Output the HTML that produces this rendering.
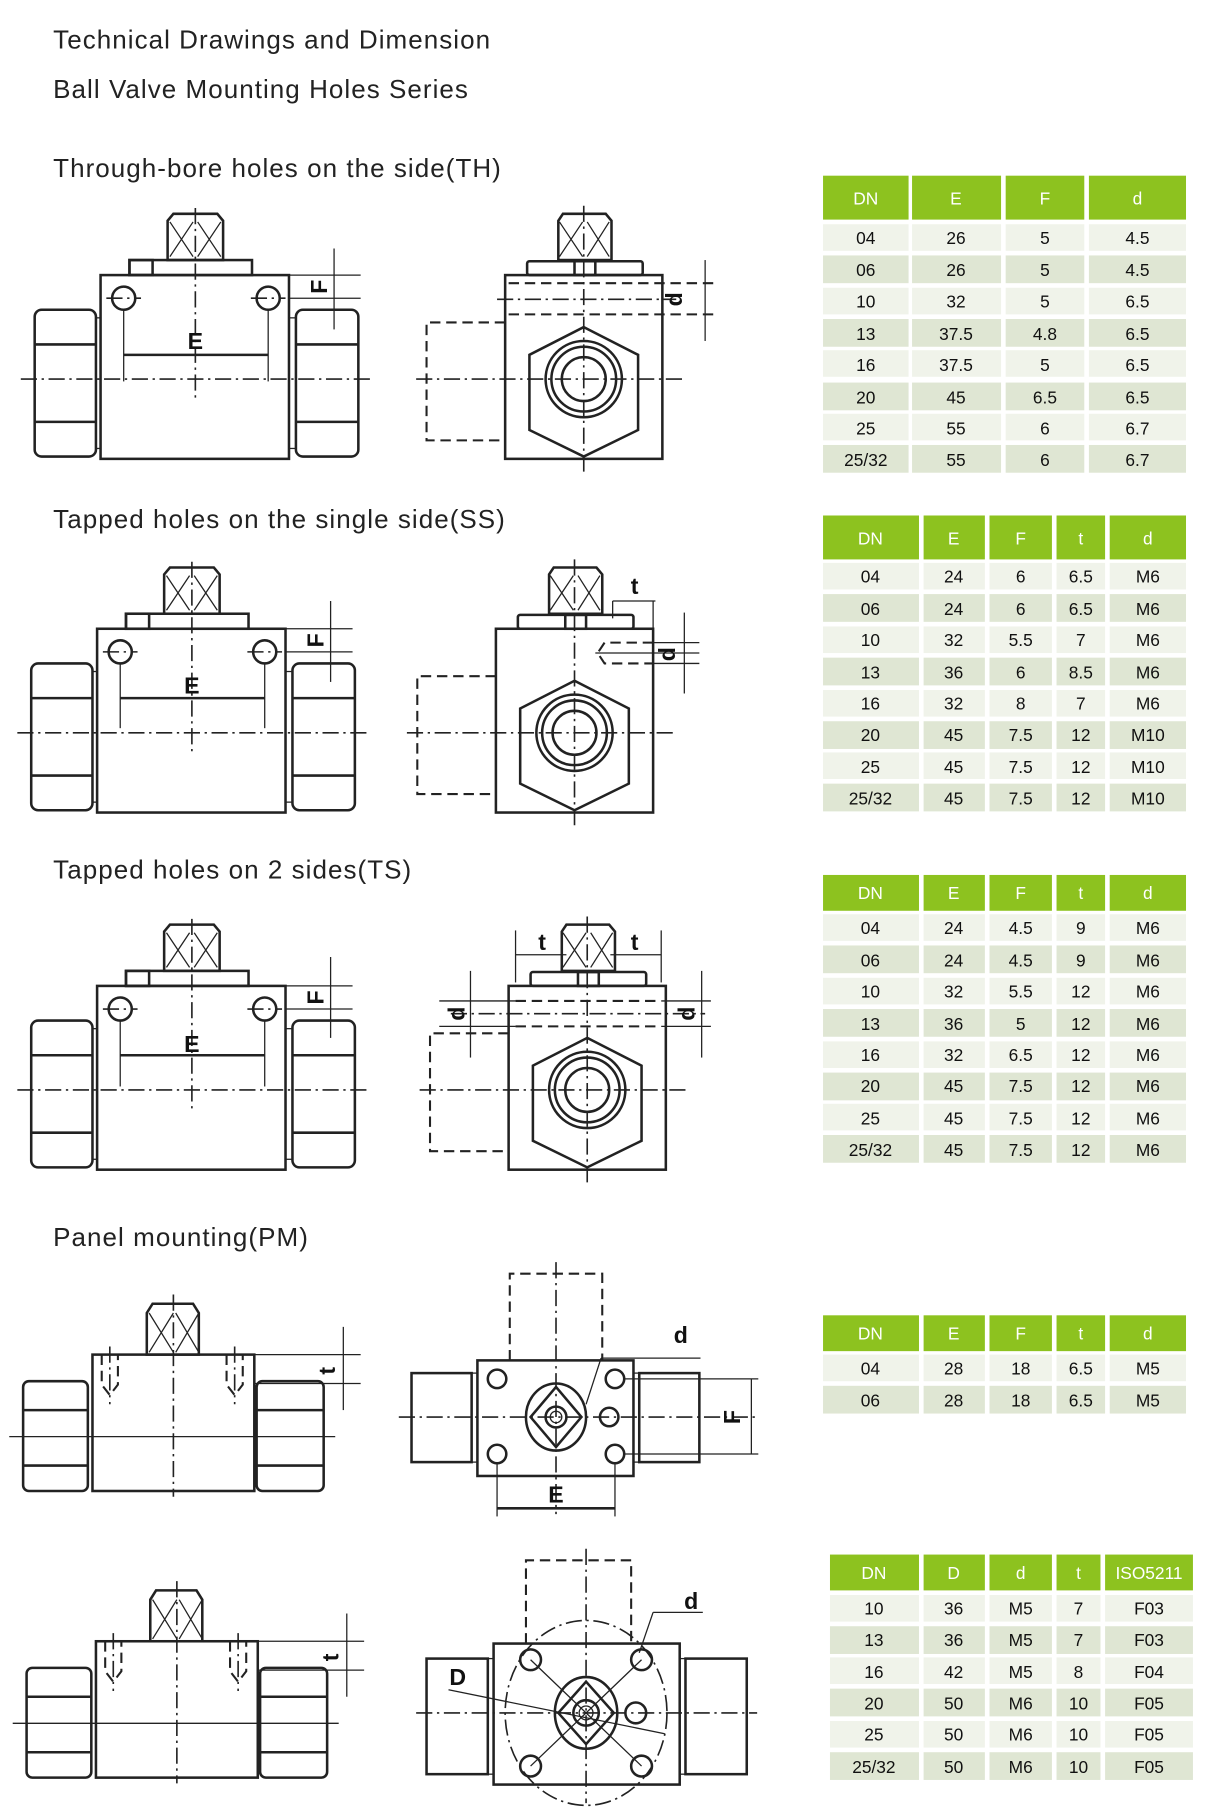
<!DOCTYPE html>
<html><head><meta charset="utf-8"><style>
html,body{margin:0;padding:0;background:#fff;}
svg{display:block;}
text{font-family:"Liberation Sans",sans-serif;}
.t{font-size:22.5px;fill:#222;letter-spacing:0.9px;}
.h{font-size:15px;fill:#fff;text-anchor:middle;}
.c{font-size:15px;fill:#111;text-anchor:middle;}
.lb{font-size:20px;font-weight:bold;fill:#111;text-anchor:middle;}
.s{fill:none;stroke:#222;stroke-width:2.2;}
.th{fill:none;stroke:#222;stroke-width:1.1;}
.dd{fill:none;stroke:#222;stroke-width:1.8;stroke-dasharray:9 5;}
.cl{fill:none;stroke:#222;stroke-width:1.4;stroke-dasharray:14 4 2 4;}
</style></head><body>
<svg width="1223" height="1810" viewBox="0 0 1058 1566" preserveAspectRatio="none" xmlns="http://www.w3.org/2000/svg">
<defs>
<g id="lv">
 <rect class="s" x="87" y="238" width="163" height="159"/>
 <rect class="s" x="30" y="268" width="53" height="127" rx="6"/>
 <line class="s" x1="30" y1="298" x2="83" y2="298"/><line class="s" x1="30" y1="365" x2="83" y2="365"/>
 <rect class="th" x="83" y="275" width="4" height="113"/>
 <rect class="s" x="256" y="268" width="54" height="127" rx="6"/>
 <line class="s" x1="256" y1="298" x2="310" y2="298"/><line class="s" x1="256" y1="365" x2="310" y2="365"/>
 <rect class="th" x="250" y="275" width="6" height="113"/>
 <path class="s" d="M150,185 h38 l5,6 v34 h-48 v-34 z"/>
 <path class="th" d="M147,192 L167,222 M167,192 L147,222 M171,192 L191,222 M191,192 L171,222"/>
 <rect class="s" x="112" y="225" width="106" height="13"/>
 <rect class="s" x="112" y="225" width="20" height="13"/>
 <line class="cl" x1="18" y1="328" x2="322" y2="328"/>
 <line class="cl" x1="169" y1="180" x2="169" y2="345"/>
</g>
<g id="rv">
 <rect class="s" x="437" y="238" width="136" height="159"/>
 <path class="s" d="M505,283 L552,307 L552,372 L505,395 L458,372 L458,307 Z"/>
 <circle class="s" cx="505" cy="328" r="33"/><circle class="s" cx="505" cy="328" r="28"/><circle class="s" cx="505" cy="328" r="19"/>
 <path class="dd" d="M437,279 H369 V381 H437"/>
 <path class="s" d="M487,185 h37 l5,6 v34 h-46 v-34 z"/>
 <path class="th" d="M484,192 L504,222 M504,192 L484,222 M508,192 L527,222 M527,192 L508,222"/>
 <rect class="s" x="456" y="226" width="100" height="12" rx="2"/>
 <rect class="s" x="497" y="226" width="18" height="12"/>
 <line class="cl" x1="360" y1="328" x2="590" y2="328"/>
 <line class="cl" x1="505" y1="178" x2="505" y2="410"/>
</g>
<g id="plv">
 <rect class="s" x="80" y="1172" width="140" height="118"/>
 <rect class="s" x="20" y="1195" width="56" height="95" rx="5"/>
 <line class="s" x1="20" y1="1220" x2="76" y2="1220"/><line class="s" x1="20" y1="1268" x2="76" y2="1268"/>
 <rect class="s" x="222" y="1195" width="58" height="95" rx="5"/>
 <line class="s" x1="222" y1="1220" x2="280" y2="1220"/><line class="s" x1="222" y1="1268" x2="280" y2="1268"/>
 <path class="s" d="M132,1128 h35 l5,8 v36 h-45 v-36 z"/>
 <path class="th" d="M129,1136 L150,1170 M150,1136 L129,1170 M152,1136 L172,1170 M172,1136 L152,1170"/>
 <path class="dd" d="M88,1172 v26 l7,9 l7,-9 v-26 M196,1172 v26 l7,9 l7,-9 v-26"/>
 <line class="cl" x1="95" y1="1165" x2="95" y2="1215"/><line class="cl" x1="203" y1="1165" x2="203" y2="1215"/>
 <line class="th" x1="8" y1="1243" x2="290" y2="1243"/>
 <line class="cl" x1="150" y1="1120" x2="150" y2="1295"/>
 <line class="th" x1="220" y1="1172" x2="312" y2="1172"/><line class="th" x1="220" y1="1197" x2="312" y2="1197"/>
 <line class="th" x1="297" y1="1148" x2="297" y2="1220"/>
</g>
</defs>

<text class="t" x="46" y="42">Technical Drawings and Dimension</text>
<text class="t" x="46" y="85">Ball Valve Mounting Holes Series</text>
<text class="t" x="46" y="153">Through-bore holes on the side(TH)</text>
<text class="t" x="46" y="457">Tapped holes on the single side(SS)</text>
<text class="t" x="46" y="760">Tapped holes on 2 sides(TS)</text>
<text class="t" x="46" y="1078">Panel mounting(PM)</text>

<!-- TH -->
<use href="#lv"/>
<circle class="s" cx="107" cy="258" r="10"/><circle class="s" cx="232" cy="258" r="10"/>
<line class="cl" x1="92" y1="258" x2="122" y2="258"/><line class="cl" x1="217" y1="258" x2="247" y2="258"/>
<line class="th" x1="107" y1="268" x2="107" y2="330"/><line class="th" x1="232" y1="268" x2="232" y2="330"/>
<line class="s" x1="107" y1="307" x2="232" y2="307"/>
<text class="lb" x="169" y="302">E</text>
<line class="th" x1="250" y1="238" x2="312" y2="238"/><line class="th" x1="250" y1="258" x2="312" y2="258"/>
<line class="th" x1="289" y1="215" x2="289" y2="285"/>
<text class="lb" transform="translate(283,248) rotate(-90)" x="0" y="0">F</text>
<use href="#rv"/>
<line class="dd" x1="440" y1="245" x2="620" y2="245"/><line class="dd" x1="440" y1="272" x2="620" y2="272"/>
<line class="cl" x1="430" y1="259" x2="585" y2="259"/>
<line class="th" x1="610" y1="225" x2="610" y2="295"/>
<text class="lb" transform="translate(590,259) rotate(-90)" x="0" y="0">d</text>

<!-- SS -->
<g transform="translate(-3,306)"><use href="#lv"/></g>
<circle class="s" cx="104" cy="564" r="10"/><circle class="s" cx="229" cy="564" r="10"/>
<line class="cl" x1="89" y1="564" x2="119" y2="564"/><line class="cl" x1="214" y1="564" x2="244" y2="564"/>
<line class="th" x1="104" y1="574" x2="104" y2="630"/><line class="th" x1="229" y1="574" x2="229" y2="630"/>
<line class="s" x1="104" y1="604" x2="229" y2="604"/>
<text class="lb" x="166" y="600">E</text>
<line class="th" x1="247" y1="544" x2="305" y2="544"/><line class="th" x1="247" y1="564" x2="305" y2="564"/>
<line class="th" x1="286" y1="520" x2="286" y2="590"/>
<text class="lb" transform="translate(280,554) rotate(-90)" x="0" y="0">F</text>
<g transform="translate(-8,306)"><use href="#rv"/></g>
<path class="dd" d="M565,556 h-42 l-6,9 l6,9 h42"/>
<line class="th" x1="515" y1="565" x2="605" y2="565"/>
<line class="th" x1="565" y1="520" x2="565" y2="560"/><line class="th" x1="530" y1="520" x2="530" y2="535"/>
<line class="th" x1="530" y1="520" x2="567" y2="520"/>
<text class="lb" x="549" y="514">t</text>
<line class="th" x1="565" y1="556" x2="605" y2="556"/><line class="th" x1="565" y1="574" x2="605" y2="574"/>
<line class="th" x1="592" y1="530" x2="592" y2="600"/>
<text class="lb" transform="translate(584,566) rotate(-90)" x="0" y="0">d</text>

<!-- TS -->
<g transform="translate(-3,615)"><use href="#lv"/></g>
<circle class="s" cx="104" cy="873" r="10"/><circle class="s" cx="229" cy="873" r="10"/>
<line class="cl" x1="89" y1="873" x2="119" y2="873"/><line class="cl" x1="214" y1="873" x2="244" y2="873"/>
<line class="th" x1="104" y1="883" x2="104" y2="940"/><line class="th" x1="229" y1="883" x2="229" y2="940"/>
<line class="s" x1="104" y1="913" x2="229" y2="913"/>
<text class="lb" x="166" y="910">E</text>
<line class="th" x1="247" y1="853" x2="305" y2="853"/><line class="th" x1="247" y1="873" x2="305" y2="873"/>
<line class="th" x1="286" y1="828" x2="286" y2="898"/>
<text class="lb" transform="translate(280,863) rotate(-90)" x="0" y="0">F</text>
<g transform="translate(3,615)"><use href="#rv"/></g>
<line class="dd" x1="446" y1="866" x2="572" y2="866"/><line class="dd" x1="446" y1="888" x2="572" y2="888"/>
<line class="cl" x1="390" y1="877" x2="610" y2="877"/>
<line class="th" x1="446" y1="805" x2="446" y2="850"/><line class="th" x1="572" y1="805" x2="572" y2="850"/>
<line class="th" x1="446" y1="826" x2="490" y2="826"/><line class="th" x1="528" y1="826" x2="572" y2="826"/>
<text class="lb" x="469" y="822">t</text><text class="lb" x="549" y="822">t</text>
<line class="th" x1="380" y1="866" x2="446" y2="866"/><line class="th" x1="380" y1="888" x2="446" y2="888"/>
<line class="th" x1="572" y1="866" x2="615" y2="866"/><line class="th" x1="572" y1="888" x2="615" y2="888"/>
<line class="th" x1="407" y1="840" x2="407" y2="915"/><line class="th" x1="607" y1="840" x2="607" y2="915"/>
<text class="lb" transform="translate(402,877) rotate(-90)" x="0" y="0">d</text>
<text class="lb" transform="translate(601,877) rotate(-90)" x="0" y="0">d</text>

<!-- PM 1 -->
<use href="#plv"/>
<text class="lb" transform="translate(290,1186) rotate(-90)" x="0" y="0">t</text>
<rect class="s" x="413" y="1177" width="135" height="100"/>
<path class="dd" d="M441,1177 V1102 H521 V1177"/>
<rect class="s" x="356" y="1188" width="52" height="77"/><rect class="th" x="408" y="1188" width="5" height="77"/>
<rect class="s" x="553" y="1188" width="52" height="77"/><rect class="th" x="548" y="1188" width="5" height="77"/>
<circle class="s" cx="430" cy="1193" r="8"/><circle class="s" cx="532" cy="1193" r="8"/>
<circle class="s" cx="430" cy="1258" r="8"/><circle class="s" cx="532" cy="1258" r="8"/>
<circle class="s" cx="527" cy="1226" r="8"/>
<ellipse class="s" cx="481" cy="1226" rx="26" ry="29"/>
<path class="s" d="M481,1200 L503,1226 L481,1252 L459,1226 Z"/>
<circle class="s" cx="481" cy="1226" r="9"/><circle class="th" cx="481" cy="1226" r="5"/>
<line class="cl" x1="345" y1="1226" x2="655" y2="1226"/>
<line class="cl" x1="481" y1="1092" x2="481" y2="1310"/>
<line class="th" x1="520" y1="1175" x2="606" y2="1175"/><line class="th" x1="520" y1="1175" x2="507" y2="1215"/>
<text class="lb" x="589" y="1162">d</text>
<line class="th" x1="430" y1="1265" x2="430" y2="1312"/><line class="th" x1="532" y1="1265" x2="532" y2="1312"/>
<line class="s" x1="430" y1="1305" x2="532" y2="1305"/>
<text class="lb" x="481" y="1300">E</text>
<line class="th" x1="540" y1="1193" x2="656" y2="1193"/><line class="th" x1="540" y1="1258" x2="656" y2="1258"/>
<line class="th" x1="650" y1="1193" x2="650" y2="1258"/>
<text class="lb" transform="translate(640,1226) rotate(-90)" x="0" y="0">F</text>

<!-- PM 2 -->
<g transform="translate(3,248)"><use href="#plv"/></g>
<text class="lb" transform="translate(293,1434) rotate(-90)" x="0" y="0">t</text>
<rect class="s" x="427" y="1422" width="161" height="122"/>
<path class="dd" d="M455,1422 V1350 H546 V1422"/>
<rect class="s" x="369" y="1435" width="53" height="100"/><rect class="th" x="422" y="1435" width="5" height="100"/>
<rect class="s" x="593" y="1435" width="53" height="100"/><rect class="th" x="588" y="1435" width="5" height="100"/>
<ellipse class="cl" cx="507" cy="1482" rx="70" ry="80"/>
<circle class="s" cx="459" cy="1436" r="9"/><circle class="s" cx="555" cy="1436" r="9"/>
<circle class="s" cx="459" cy="1528" r="9"/><circle class="s" cx="555" cy="1528" r="9"/>
<circle class="s" cx="550" cy="1482" r="9"/>
<ellipse class="s" cx="507" cy="1482" rx="27" ry="31"/>
<path class="s" d="M507,1455 L531,1482 L507,1509 L483,1482 Z"/>
<circle class="s" cx="507" cy="1482" r="11"/><circle class="th" cx="507" cy="1482" r="6"/>
<path class="th" d="M459,1436 L555,1528 M555,1436 L459,1528"/>
<line class="cl" x1="360" y1="1482" x2="655" y2="1482"/>
<line class="cl" x1="507" y1="1340" x2="507" y2="1560"/>
<line class="th" x1="565" y1="1395" x2="608" y2="1395"/><line class="th" x1="565" y1="1395" x2="553" y2="1430"/>
<text class="lb" x="598" y="1392">d</text>
<line class="th" x1="388" y1="1462" x2="575" y2="1500"/>
<text class="lb" x="396" y="1458">D</text>

<!-- Tables -->
<g>
<rect x="712" y="152" width="74" height="38" fill="#8dc21f"/><rect x="789" y="152" width="77" height="38" fill="#8dc21f"/><rect x="870" y="152" width="68" height="38" fill="#8dc21f"/><rect x="942" y="152" width="84" height="38" fill="#8dc21f"/>
<text class="h" x="749" y="177">DN</text><text class="h" x="827" y="177">E</text><text class="h" x="904" y="177">F</text><text class="h" x="984" y="177">d</text>
</g>
<g>
<rect x="712" y="446" width="83" height="38" fill="#8dc21f"/><rect x="799" y="446" width="53" height="38" fill="#8dc21f"/><rect x="856" y="446" width="54" height="38" fill="#8dc21f"/><rect x="914" y="446" width="42" height="38" fill="#8dc21f"/><rect x="960" y="446" width="66" height="38" fill="#8dc21f"/>
<text class="h" x="753" y="471">DN</text><text class="h" x="825" y="471">E</text><text class="h" x="883" y="471">F</text><text class="h" x="935" y="471">t</text><text class="h" x="993" y="471">d</text>
</g>
<g>
<rect x="712" y="757" width="83" height="31" fill="#8dc21f"/><rect x="799" y="757" width="53" height="31" fill="#8dc21f"/><rect x="856" y="757" width="54" height="31" fill="#8dc21f"/><rect x="914" y="757" width="42" height="31" fill="#8dc21f"/><rect x="960" y="757" width="66" height="31" fill="#8dc21f"/>
<text class="h" x="753" y="778">DN</text><text class="h" x="825" y="778">E</text><text class="h" x="883" y="778">F</text><text class="h" x="935" y="778">t</text><text class="h" x="993" y="778">d</text>
</g>
<g>
<rect x="712" y="1138" width="83" height="31" fill="#8dc21f"/><rect x="799" y="1138" width="53" height="31" fill="#8dc21f"/><rect x="856" y="1138" width="54" height="31" fill="#8dc21f"/><rect x="914" y="1138" width="42" height="31" fill="#8dc21f"/><rect x="960" y="1138" width="66" height="31" fill="#8dc21f"/>
<text class="h" x="753" y="1159">DN</text><text class="h" x="825" y="1159">E</text><text class="h" x="883" y="1159">F</text><text class="h" x="935" y="1159">t</text><text class="h" x="993" y="1159">d</text>
</g>
<g>
<rect x="718" y="1345" width="77" height="31" fill="#8dc21f"/><rect x="799" y="1345" width="53" height="31" fill="#8dc21f"/><rect x="856" y="1345" width="54" height="31" fill="#8dc21f"/><rect x="914" y="1345" width="38" height="31" fill="#8dc21f"/><rect x="956" y="1345" width="76" height="31" fill="#8dc21f"/>
<text class="h" x="756" y="1366">DN</text><text class="h" x="825" y="1366">D</text><text class="h" x="883" y="1366">d</text><text class="h" x="933" y="1366">t</text><text class="h" x="994" y="1366">ISO5211</text>
</g>

<g>
<g fill="#f0f3ea"><rect x="712" y="194" width="74" height="23"/><rect x="789" y="194" width="77" height="23"/><rect x="870" y="194" width="68" height="23"/><rect x="942" y="194" width="84" height="23"/>
<rect x="712" y="249" width="74" height="23"/><rect x="789" y="249" width="77" height="23"/><rect x="870" y="249" width="68" height="23"/><rect x="942" y="249" width="84" height="23"/>
<rect x="712" y="303" width="74" height="23"/><rect x="789" y="303" width="77" height="23"/><rect x="870" y="303" width="68" height="23"/><rect x="942" y="303" width="84" height="23"/>
<rect x="712" y="358" width="74" height="23"/><rect x="789" y="358" width="77" height="23"/><rect x="870" y="358" width="68" height="23"/><rect x="942" y="358" width="84" height="23"/></g>
<g fill="#dfe6d3"><rect x="712" y="221" width="74" height="24"/><rect x="789" y="221" width="77" height="24"/><rect x="870" y="221" width="68" height="24"/><rect x="942" y="221" width="84" height="24"/>
<rect x="712" y="276" width="74" height="24"/><rect x="789" y="276" width="77" height="24"/><rect x="870" y="276" width="68" height="24"/><rect x="942" y="276" width="84" height="24"/>
<rect x="712" y="331" width="74" height="24"/><rect x="789" y="331" width="77" height="24"/><rect x="870" y="331" width="68" height="24"/><rect x="942" y="331" width="84" height="24"/>
<rect x="712" y="385" width="74" height="24"/><rect x="789" y="385" width="77" height="24"/><rect x="870" y="385" width="68" height="24"/><rect x="942" y="385" width="84" height="24"/></g>
<text class="c" x="749" y="211">04</text><text class="c" x="827" y="211">26</text><text class="c" x="904" y="211">5</text><text class="c" x="984" y="211">4.5</text>
<text class="c" x="749" y="239">06</text><text class="c" x="827" y="239">26</text><text class="c" x="904" y="239">5</text><text class="c" x="984" y="239">4.5</text>
<text class="c" x="749" y="266">10</text><text class="c" x="827" y="266">32</text><text class="c" x="904" y="266">5</text><text class="c" x="984" y="266">6.5</text>
<text class="c" x="749" y="294">13</text><text class="c" x="827" y="294">37.5</text><text class="c" x="904" y="294">4.8</text><text class="c" x="984" y="294">6.5</text>
<text class="c" x="749" y="321">16</text><text class="c" x="827" y="321">37.5</text><text class="c" x="904" y="321">5</text><text class="c" x="984" y="321">6.5</text>
<text class="c" x="749" y="349">20</text><text class="c" x="827" y="349">45</text><text class="c" x="904" y="349">6.5</text><text class="c" x="984" y="349">6.5</text>
<text class="c" x="749" y="376">25</text><text class="c" x="827" y="376">55</text><text class="c" x="904" y="376">6</text><text class="c" x="984" y="376">6.7</text>
<text class="c" x="749" y="403">25/32</text><text class="c" x="827" y="403">55</text><text class="c" x="904" y="403">6</text><text class="c" x="984" y="403">6.7</text>
</g>

<g id="b2">
<g fill="#f0f3ea">
<rect x="712" y="487" width="83" height="23"/><rect x="799" y="487" width="53" height="23"/><rect x="856" y="487" width="54" height="23"/><rect x="914" y="487" width="42" height="23"/><rect x="960" y="487" width="66" height="23"/>
<rect x="712" y="542" width="83" height="23"/><rect x="799" y="542" width="53" height="23"/><rect x="856" y="542" width="54" height="23"/><rect x="914" y="542" width="42" height="23"/><rect x="960" y="542" width="66" height="23"/>
<rect x="712" y="597" width="83" height="23"/><rect x="799" y="597" width="53" height="23"/><rect x="856" y="597" width="54" height="23"/><rect x="914" y="597" width="42" height="23"/><rect x="960" y="597" width="66" height="23"/>
<rect x="712" y="651" width="83" height="23"/><rect x="799" y="651" width="53" height="23"/><rect x="856" y="651" width="54" height="23"/><rect x="914" y="651" width="42" height="23"/><rect x="960" y="651" width="66" height="23"/>
</g>
<g fill="#dfe6d3">
<rect x="712" y="514" width="83" height="24"/><rect x="799" y="514" width="53" height="24"/><rect x="856" y="514" width="54" height="24"/><rect x="914" y="514" width="42" height="24"/><rect x="960" y="514" width="66" height="24"/>
<rect x="712" y="569" width="83" height="24"/><rect x="799" y="569" width="53" height="24"/><rect x="856" y="569" width="54" height="24"/><rect x="914" y="569" width="42" height="24"/><rect x="960" y="569" width="66" height="24"/>
<rect x="712" y="624" width="83" height="24"/><rect x="799" y="624" width="53" height="24"/><rect x="856" y="624" width="54" height="24"/><rect x="914" y="624" width="42" height="24"/><rect x="960" y="624" width="66" height="24"/>
<rect x="712" y="678" width="83" height="24"/><rect x="799" y="678" width="53" height="24"/><rect x="856" y="678" width="54" height="24"/><rect x="914" y="678" width="42" height="24"/><rect x="960" y="678" width="66" height="24"/>
</g>
</g>
<text class="c" x="753" y="504">04</text><text class="c" x="825" y="504">24</text><text class="c" x="883" y="504">6</text><text class="c" x="935" y="504">6.5</text><text class="c" x="993" y="504">M6</text>
<text class="c" x="753" y="532">06</text><text class="c" x="825" y="532">24</text><text class="c" x="883" y="532">6</text><text class="c" x="935" y="532">6.5</text><text class="c" x="993" y="532">M6</text>
<text class="c" x="753" y="559">10</text><text class="c" x="825" y="559">32</text><text class="c" x="883" y="559">5.5</text><text class="c" x="935" y="559">7</text><text class="c" x="993" y="559">M6</text>
<text class="c" x="753" y="587">13</text><text class="c" x="825" y="587">36</text><text class="c" x="883" y="587">6</text><text class="c" x="935" y="587">8.5</text><text class="c" x="993" y="587">M6</text>
<text class="c" x="753" y="614">16</text><text class="c" x="825" y="614">32</text><text class="c" x="883" y="614">8</text><text class="c" x="935" y="614">7</text><text class="c" x="993" y="614">M6</text>
<text class="c" x="753" y="641">20</text><text class="c" x="825" y="641">45</text><text class="c" x="883" y="641">7.5</text><text class="c" x="935" y="641">12</text><text class="c" x="993" y="641">M10</text>
<text class="c" x="753" y="669">25</text><text class="c" x="825" y="669">45</text><text class="c" x="883" y="669">7.5</text><text class="c" x="935" y="669">12</text><text class="c" x="993" y="669">M10</text>
<text class="c" x="753" y="696">25/32</text><text class="c" x="825" y="696">45</text><text class="c" x="883" y="696">7.5</text><text class="c" x="935" y="696">12</text><text class="c" x="993" y="696">M10</text>

<g transform="translate(0,304)"><use href="#b2"/></g>
<text class="c" x="753" y="808">04</text><text class="c" x="825" y="808">24</text><text class="c" x="883" y="808">4.5</text><text class="c" x="935" y="808">9</text><text class="c" x="993" y="808">M6</text>
<text class="c" x="753" y="836">06</text><text class="c" x="825" y="836">24</text><text class="c" x="883" y="836">4.5</text><text class="c" x="935" y="836">9</text><text class="c" x="993" y="836">M6</text>
<text class="c" x="753" y="863">10</text><text class="c" x="825" y="863">32</text><text class="c" x="883" y="863">5.5</text><text class="c" x="935" y="863">12</text><text class="c" x="993" y="863">M6</text>
<text class="c" x="753" y="891">13</text><text class="c" x="825" y="891">36</text><text class="c" x="883" y="891">5</text><text class="c" x="935" y="891">12</text><text class="c" x="993" y="891">M6</text>
<text class="c" x="753" y="918">16</text><text class="c" x="825" y="918">32</text><text class="c" x="883" y="918">6.5</text><text class="c" x="935" y="918">12</text><text class="c" x="993" y="918">M6</text>
<text class="c" x="753" y="945">20</text><text class="c" x="825" y="945">45</text><text class="c" x="883" y="945">7.5</text><text class="c" x="935" y="945">12</text><text class="c" x="993" y="945">M6</text>
<text class="c" x="753" y="973">25</text><text class="c" x="825" y="973">45</text><text class="c" x="883" y="973">7.5</text><text class="c" x="935" y="973">12</text><text class="c" x="993" y="973">M6</text>
<text class="c" x="753" y="1000">25/32</text><text class="c" x="825" y="1000">45</text><text class="c" x="883" y="1000">7.5</text><text class="c" x="935" y="1000">12</text><text class="c" x="993" y="1000">M6</text>

<g fill="#f0f3ea"><rect x="712" y="1172" width="83" height="23"/><rect x="799" y="1172" width="53" height="23"/><rect x="856" y="1172" width="54" height="23"/><rect x="914" y="1172" width="42" height="23"/><rect x="960" y="1172" width="66" height="23"/></g>
<g fill="#dfe6d3"><rect x="712" y="1199" width="83" height="24"/><rect x="799" y="1199" width="53" height="24"/><rect x="856" y="1199" width="54" height="24"/><rect x="914" y="1199" width="42" height="24"/><rect x="960" y="1199" width="66" height="24"/></g>
<text class="c" x="753" y="1189">04</text><text class="c" x="825" y="1189">28</text><text class="c" x="883" y="1189">18</text><text class="c" x="935" y="1189">6.5</text><text class="c" x="993" y="1189">M5</text>
<text class="c" x="753" y="1217">06</text><text class="c" x="825" y="1217">28</text><text class="c" x="883" y="1217">18</text><text class="c" x="935" y="1217">6.5</text><text class="c" x="993" y="1217">M5</text>

<g fill="#f0f3ea">
<rect x="718" y="1380" width="77" height="23"/><rect x="799" y="1380" width="53" height="23"/><rect x="856" y="1380" width="54" height="23"/><rect x="914" y="1380" width="38" height="23"/><rect x="956" y="1380" width="76" height="23"/>
<rect x="718" y="1434" width="77" height="23"/><rect x="799" y="1434" width="53" height="23"/><rect x="856" y="1434" width="54" height="23"/><rect x="914" y="1434" width="38" height="23"/><rect x="956" y="1434" width="76" height="23"/>
<rect x="718" y="1489" width="77" height="23"/><rect x="799" y="1489" width="53" height="23"/><rect x="856" y="1489" width="54" height="23"/><rect x="914" y="1489" width="38" height="23"/><rect x="956" y="1489" width="76" height="23"/>
</g>
<g fill="#dfe6d3">
<rect x="718" y="1407" width="77" height="24"/><rect x="799" y="1407" width="53" height="24"/><rect x="856" y="1407" width="54" height="24"/><rect x="914" y="1407" width="38" height="24"/><rect x="956" y="1407" width="76" height="24"/>
<rect x="718" y="1461" width="77" height="24"/><rect x="799" y="1461" width="53" height="24"/><rect x="856" y="1461" width="54" height="24"/><rect x="914" y="1461" width="38" height="24"/><rect x="956" y="1461" width="76" height="24"/>
<rect x="718" y="1516" width="77" height="24"/><rect x="799" y="1516" width="53" height="24"/><rect x="856" y="1516" width="54" height="24"/><rect x="914" y="1516" width="38" height="24"/><rect x="956" y="1516" width="76" height="24"/>
</g>
<text class="c" x="756" y="1397">10</text><text class="c" x="825" y="1397">36</text><text class="c" x="883" y="1397">M5</text><text class="c" x="933" y="1397">7</text><text class="c" x="994" y="1397">F03</text>
<text class="c" x="756" y="1424">13</text><text class="c" x="825" y="1424">36</text><text class="c" x="883" y="1424">M5</text><text class="c" x="933" y="1424">7</text><text class="c" x="994" y="1424">F03</text>
<text class="c" x="756" y="1452">16</text><text class="c" x="825" y="1452">42</text><text class="c" x="883" y="1452">M5</text><text class="c" x="933" y="1452">8</text><text class="c" x="994" y="1452">F04</text>
<text class="c" x="756" y="1479">20</text><text class="c" x="825" y="1479">50</text><text class="c" x="883" y="1479">M6</text><text class="c" x="933" y="1479">10</text><text class="c" x="994" y="1479">F05</text>
<text class="c" x="756" y="1506">25</text><text class="c" x="825" y="1506">50</text><text class="c" x="883" y="1506">M6</text><text class="c" x="933" y="1506">10</text><text class="c" x="994" y="1506">F05</text>
<text class="c" x="756" y="1534">25/32</text><text class="c" x="825" y="1534">50</text><text class="c" x="883" y="1534">M6</text><text class="c" x="933" y="1534">10</text><text class="c" x="994" y="1534">F05</text>
</svg>
</body></html>
